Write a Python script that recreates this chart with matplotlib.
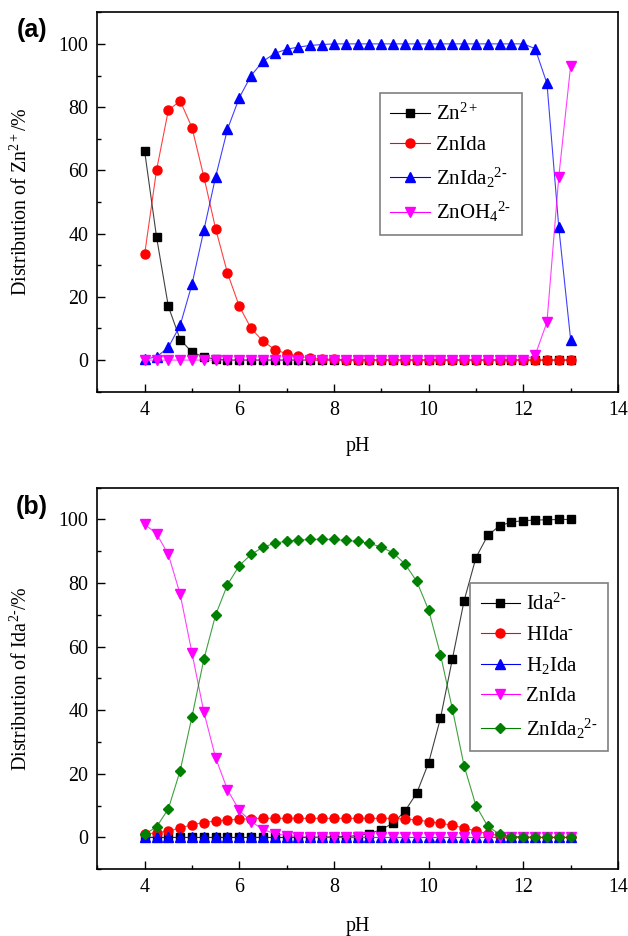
import numpy as np
import matplotlib
matplotlib.use("Agg")
import matplotlib.pyplot as plt
from matplotlib.ticker import MultipleLocator

plt.rcParams['font.family'] = 'Liberation Serif'
plt.rcParams['mathtext.fontset'] = 'custom'
plt.rcParams['mathtext.rm'] = 'Liberation Serif'
plt.rcParams['mathtext.it'] = 'Liberation Serif:italic'
plt.rcParams['mathtext.default'] = 'regular'

ph = [4.0, 4.25, 4.5, 4.75, 5.0, 5.25, 5.5, 5.75, 6.0, 6.25, 6.5, 6.75, 7.0,
      7.25, 7.5, 7.75, 8.0, 8.25, 8.5, 8.75, 9.0, 9.25, 9.5, 9.75, 10.0,
      10.25, 10.5, 10.75, 11.0, 11.25, 11.5, 11.75, 12.0, 12.25, 12.5, 12.75, 13.0]

# panel (a): distribution of Zn2+
zn = [66, 39, 17, 6.5, 2.5, 1, 0.3, 0, 0, 0, 0, 0, 0,
      0, 0, 0, 0, 0, 0, 0, 0, 0, 0, 0, 0,
      0, 0, 0, 0, 0, 0, 0, 0, 0, 0, 0, 0]
znida_a = [33.5, 60, 79, 82, 73.5, 58, 41.5, 27.5, 17, 10, 6, 3.3, 2,
           1.2, 0.7, 0.4, 0.2, 0.1, 0, 0, 0, 0, 0, 0, 0,
           0, 0, 0, 0, 0, 0, 0, 0, 0, 0, 0, 0]
znida2_a = [0.3, 1, 4, 11, 24, 41, 58, 73, 83, 90, 94.5, 97, 98.3,
            99, 99.5, 99.8, 100, 100, 100, 100, 100, 100, 100, 100, 100,
            100, 100, 100, 100, 100, 100, 100, 100, 98.5, 87.5, 42, 6.5]
znoh4 = [0, 0, 0, 0, 0, 0, 0, 0, 0, 0, 0, 0, 0,
         0, 0, 0, 0, 0, 0, 0, 0, 0, 0, 0, 0,
         0, 0, 0, 0, 0, 0, 0, 0, 1.5, 12, 58, 93]

# panel (b): distribution of Ida2-
ida = [0, 0, 0, 0, 0, 0, 0, 0, 0, 0, 0, 0, 0,
       0, 0, 0.1, 0.2, 0.3, 0.6, 1.2, 2.5, 4.5, 8.3, 14, 23.5,
       37.5, 56, 74.5, 88, 95, 98, 99.2, 99.6, 99.8, 99.9, 100, 100]
hida = [1, 1.5, 2, 3, 4, 4.7, 5.2, 5.5, 5.7, 5.9, 6, 6, 6,
        6, 6, 6, 6, 6, 6, 6, 6, 6, 5.8, 5.5, 5,
        4.5, 3.8, 3, 2, 1.2, 0.6, 0.3, 0.1, 0, 0, 0, 0]
h2ida = [0.1, 0, 0, 0, 0, 0, 0, 0, 0, 0, 0, 0, 0,
         0, 0, 0, 0, 0, 0, 0, 0, 0, 0, 0, 0,
         0, 0, 0, 0, 0, 0, 0, 0, 0, 0, 0, 0]
znida_b = [98.5, 95.5, 89, 76.5, 58, 39.5, 25, 15, 8.5, 5, 2.5, 1.2, 0.6,
           0.3, 0.1, 0, 0, 0, 0, 0, 0, 0, 0, 0, 0,
           0, 0, 0, 0, 0, 0, 0, 0, 0, 0, 0, 0]
znida2_b = [1, 3.3, 9, 21, 38, 56, 70, 79.5, 85.5, 89, 91.3, 92.5, 93.2,
            93.5, 93.7, 93.8, 93.7, 93.4, 93.1, 92.5, 91.3, 89.5, 86, 80.5, 71.5,
            57.5, 40.5, 22.5, 10, 3.5, 1, 0.3, 0.1, 0, 0, 0, 0]

green = '#008000'
hy = '\u2010'  # short hyphen used in the charge superscripts

fig = plt.figure(figsize=(6.28, 9.36), dpi=100)
ax1 = fig.add_axes([0.155, 0.5815, 0.829, 0.4054])
ax2 = fig.add_axes([0.155, 0.0713, 0.829, 0.4077])


def series(ax, y, color, marker, label, ms=6):
    ax.plot(ph, y, color=color, lw=0.8, alpha=0.75)
    ax.plot(ph, y, color=color, marker=marker, ms=ms, ls='none')
    # proxy handle for legend (line + marker)
    ax.plot([], [], color=color, lw=0.8, marker=marker, ms=ms, label=label)


series(ax1, zn, 'black', 's', 'Zn$^{2+}$')
series(ax1, znida_a, 'red', 'o', 'ZnIda', ms=6.5)
series(ax1, znida2_a, 'blue', '^', 'ZnIda$_2$$^{2' + hy + '}$', ms=6.5)
series(ax1, znoh4, 'magenta', 'v', 'ZnOH$_4$$^{2' + hy + '}$', ms=6.5)

series(ax2, ida, 'black', 's', 'Ida$^{2' + hy + '}$')
series(ax2, hida, 'red', 'o', 'HIda$^{' + hy + '}$', ms=6.5)
series(ax2, h2ida, 'blue', '^', 'H$_2$Ida', ms=6.5)
series(ax2, znida_b, 'magenta', 'v', 'ZnIda', ms=6.5)
series(ax2, znida2_b, green, 'D', 'ZnIda$_2$$^{2' + hy + '}$', ms=5.5)

ylabels = ['Distribution of Zn$^{2+}$/%', 'Distribution of Ida$^{2' + hy + '}$/%']
for ax, lab in zip([ax1, ax2], ylabels):
    ax.set_xlim(3, 14)
    ax.set_ylim(-10, 110)
    ax.xaxis.set_major_locator(MultipleLocator(2))
    ax.xaxis.set_minor_locator(MultipleLocator(1))
    ax.yaxis.set_major_locator(MultipleLocator(20))
    ax.yaxis.set_minor_locator(MultipleLocator(10))
    ax.tick_params(which='both', direction='in', top=False, right=False,
                   labelsize=14.4, width=1)
    ax.tick_params(which='major', length=6, pad=6.5)
    ax.tick_params(which='minor', length=3)
    for s in ax.spines.values():
        s.set_linewidth(1.2)
    ax.set_ylabel(lab, fontsize=14.4)
    ax.yaxis.set_label_coords(-0.125, 0.5)
    ax.set_xlabel('pH', fontsize=14.4)

ax1.xaxis.set_label_coords(0.5, -0.12)
ax2.xaxis.set_label_coords(0.5, -0.126)

leg_kw = dict(loc='upper left', fontsize=15, frameon=True, fancybox=False,
              edgecolor='#808080', framealpha=1, borderaxespad=0,
              handlelength=1.9, handletextpad=0.3, labelspacing=0.5,
              borderpad=0.5)
l1 = ax1.legend(bbox_to_anchor=(0.543, 0.7865), **leg_kw)
l2 = ax2.legend(bbox_to_anchor=(0.716, 0.7495), **leg_kw)
for l in (l1, l2):
    l.get_frame().set_linewidth(1.2)

fig.text(0.051, 1 - 30 / 936, '(a)', family='Liberation Sans', weight='bold',
         fontsize=18, ha='center', va='center')
fig.text(0.051, 1 - 507 / 936, '(b)', family='Liberation Sans', weight='bold',
         fontsize=18, ha='center', va='center')

fig.savefig('out.png', dpi=100)
